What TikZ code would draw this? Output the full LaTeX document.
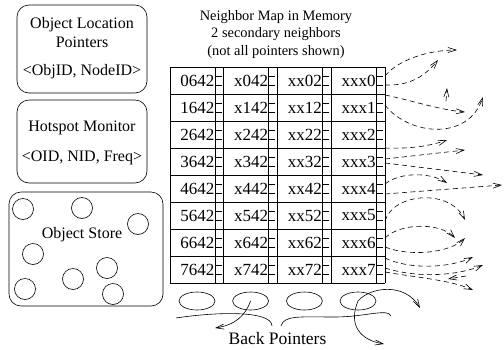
\documentclass[tikz,border=0pt]{standalone}
\usepackage{fontspec}
\setmainfont{Liberation Serif}
\usetikzlibrary{arrows.meta,shapes.geometric}
\begin{document}
\begin{tikzpicture}[x=1pt,y=-1pt,line width=0.6pt,
  rbox/.style={draw,rounded corners=12pt,inner sep=0pt},
  boxtext/.style={font=\fontsize{16}{19}\selectfont,inner sep=0pt},
  celltext/.style={font=\fontsize{17}{20}\selectfont,inner sep=0pt,anchor=east},
  headtext/.style={font=\fontsize{14.4}{17.5}\selectfont,align=center,inner sep=0pt},
  obj/.style={circle,draw,minimum size=21pt,inner sep=0pt},
  bp/.style={ellipse,draw,minimum width=36pt,minimum height=18pt,inner sep=0pt},
  dasharr/.style={dash pattern=on 5pt off 3.5pt,-{Straight Barb[length=8pt,width=5pt]}},
  solarr/.style={-{Straight Barb[length=8pt,width=5pt]}}]
\useasboundingbox (0,0) rectangle (504,349);

% left boxes
\node[rbox,minimum width=130pt,minimum height=88pt] (olp) at (82,49) {};
\node[boxtext] (olpt1) at (82,25) {Object Location};
\node[boxtext] (olpt2) at (82,42) {Pointers};
\node[boxtext] (olpt3) at (82,72) {<ObjID, NodeID>};

\node[rbox,minimum width=130pt,minimum height=83pt] (hsm) at (82,141.5) {};
\node[boxtext] (hsmt1) at (82,128) {Hotspot Monitor};
\node[boxtext] (hsmt2) at (82,158) {<OID, NID, Freq>};

\node[rbox,minimum width=154pt,minimum height=114pt] (ost) at (86,249) {};
\node[boxtext] (ostt) at (82,235) {Object Store};
\node[obj] (o1) at (23,209) {};
\node[obj] (o2) at (82,208) {};
\node[obj] (o3) at (138,224) {};
\node[obj] (o4) at (33,254) {};
\node[obj] (o5) at (107,268) {};
\node[obj] (o6) at (73,279) {};
\node[obj] (o7) at (25,289) {};
\node[obj] (o8) at (113,294) {};

% header
\node[headtext] (hdr) at (276,34.5) {Neighbor Map in Memory\\2 secondary neighbors\\(not all pointers shown)};

% table grid
\foreach \k in {0,...,8}{
  \draw (170,{67+27*\k}) -- (385,{67+27*\k});
}
\foreach \g in {0,...,3}{
  \draw ({170+53.75*\g},67) -- ({170+53.75*\g},283);
  \draw ({170+53.75*\g+45},67) -- ({170+53.75*\g+45},283);
  \foreach \r in {0,...,7}{
    \draw ({170+53.75*\g+45},{67+27*\r+9}) -- ++(6.5,0);
    \draw ({170+53.75*\g+45},{67+27*\r+18}) -- ++(6.5,0);
  }
}
\draw (385,67) -- (385,283);

% cell texts
\foreach \r in {0,...,7}{
  \foreach \g/\t in {0/\r642,1/x\r42,2/xx\r2,3/xxx\r}{
    \node[celltext] (c\r\g) at ({170+53.75*\g+44.6},{80.5+27*\r}) {\t};
  }
}

% dashed pointer arrows
\coordinate (sa) at (385,76);   \coordinate (ea) at (457,50);
\coordinate (sb) at (385,85);   \coordinate (eb) at (438,60);
\coordinate (sc) at (446,101);  \coordinate (ec) at (447,88);
\coordinate (sd) at (385,95);   \coordinate (ed) at (465,112);
\coordinate (se) at (385,105);  \coordinate (ee) at (483,97);
\coordinate (sf) at (385,148);  \coordinate (ef) at (447,140);
\coordinate (sg) at (385,159);  \coordinate (eg) at (465,150);
\coordinate (sh) at (385,163);  \coordinate (eh) at (483,175);
\coordinate (si) at (385,184);  \coordinate (ei) at (447,183);
\coordinate (sj) at (385,194);  \coordinate (ej) at (502,185);
\coordinate (sk) at (385,221);  \coordinate (ek) at (465,220);
\coordinate (sl) at (385,238);  \coordinate (el) at (455,238);
\coordinate (sm) at (385,247);  \coordinate (em) at (465,238);
\coordinate (sn) at (385,258);  \coordinate (en) at (473,257);
\coordinate (so) at (385,268);  \coordinate (eo) at (483,265);
\coordinate (sp) at (385,272);  \coordinate (ep) at (473,290);
\coordinate (sq) at (466,276);  \coordinate (eq) at (448,279);

\draw[dasharr] (sa) .. controls (398,60) and (428,50) .. (ea);
\draw[dasharr] (sb) .. controls (410,86) and (425,76) .. (eb);
\draw[dasharr] (sc) -- (ec);
\draw[dasharr] (sd) .. controls (410,100) and (440,110) .. (ed);
\draw[dasharr] (se) .. controls (408,135) and (468,142) .. (ee);
\draw[dasharr] (sf) .. controls (410,149) and (430,146) .. (ef);
\draw[dasharr] (sg) -- (eg);
\draw[dasharr] (sh) -- (eh);
\draw[dasharr] (si) .. controls (400,172) and (430,172) .. (ei);
\draw[dasharr] (sj) -- (ej);
\draw[dasharr] (sk) .. controls (393,193) and (450,188) .. (ek);
\draw[dasharr] (sl) .. controls (400,223) and (440,222) .. (el);
\draw[dasharr] (sm) .. controls (410,257) and (450,253) .. (em);
\draw[dasharr] (sn) .. controls (410,270) and (450,268) .. (en);
\draw[dasharr] (so) .. controls (420,279) and (460,275) .. (eo);
\draw[dasharr] (sp) .. controls (420,278) and (450,280) .. (ep);
\draw[dasharr] (sq) -- (eq);

% back pointers
\node[bp] (e1) at (197,301) {};
\node[bp] (e2) at (250.6,301) {};
\node[bp] (e3) at (304.4,301) {};
\node[bp] (e4) at (358,301) {};
\node[font=\fontsize{17.5}{20}\selectfont,inner sep=0pt] (bpt) at (277.5,339) {Back Pointers};

\coordinate (b2s) at (176,318); \coordinate (b2e) at (272,326);
\coordinate (b3s) at (281,326); \coordinate (b3e) at (391,316);
\coordinate (b1e) at (215,328);
\coordinate (b4e) at (384,344);
\coordinate (b5e) at (420,308);

\draw[solarr] (e2.center) .. controls (245,316) and (235,325) .. (b1e);
\draw (b2s) .. controls (215,312) and (272,310) .. (b2e);
\draw (b3s) .. controls (284,315) and (300,317) .. (335,317)
      .. controls (365,317) and (388,308) .. (b3e);
\draw[solarr] (e4.center) .. controls (348,325) and (360,340) .. (b4e);
\draw[solarr] (e4.center) .. controls (370,287) and (405,282) .. (b5e);
\end{tikzpicture}
\end{document}
